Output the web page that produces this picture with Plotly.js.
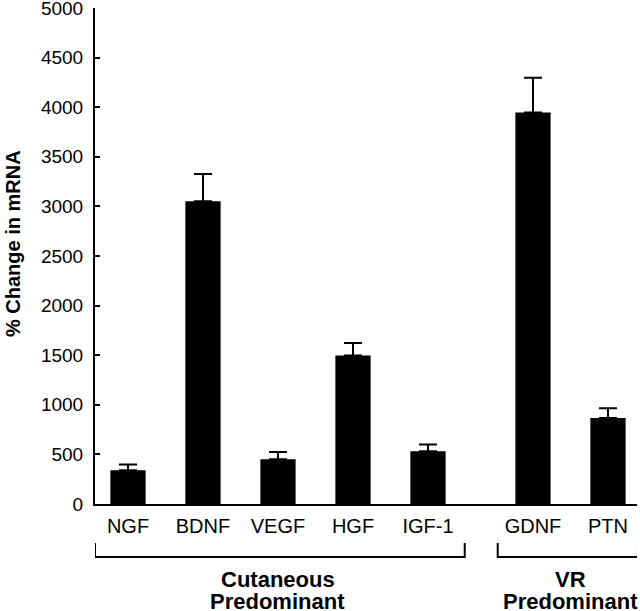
<!DOCTYPE html>
<html><head><meta charset="utf-8">
<script src="https://cdn.plot.ly/plotly-3.0.1.min.js"></script>
<style>html,body{margin:0;padding:0;background:#fff}#chart{width:640px;height:611px}</style>
</head><body><div id="chart"></div>
<script>
// Data
const categories = ["NGF", "BDNF", "VEGF", "HGF", "IGF-1", "GDNF", "PTN"];
const meanChange = [341, 3052, 452, 1496, 532, 3946, 867];
const semChange = [57, 274, 73, 127, 67, 351, 97];
const groupLine1 = ["Cutaneous", "VR"];
const groupLine2 = ["Predominant", "Predominant"];
const groupSizes = [5, 2];
const yTicks = [0, 500, 1000, 1500, 2000, 2500, 3000, 3500, 4000, 4500, 5000];

// layout helpers: positions derived from group membership
const GAP = 0.4;
const xPos = [];
const groupRanges = [];
let cursor = 0;
groupSizes.forEach((n) => {
  const start = cursor;
  for (let i = 0; i < n; i++) { xPos.push(cursor); cursor += 1; }
  groupRanges.push([start, cursor - 1]);
  cursor += GAP;
});

const FONT = "Liberation Sans, Arial, Helvetica, sans-serif";
const trace = {
  type: "bar",
  x: xPos,
  y: meanChange,
  width: 0.47,
  marker: {color: "#000", line: {width: 0}},
  error_y: {type: "data", array: semChange, arrayminus: semChange.map(() => 0), symmetric: false,
            color: "#000", thickness: 2, width: 9},
  hoverinfo: "skip"
};

const PH = 496; // plot height in px (for paper-fraction conversion)
const shapes = [];
const annotations = [];
const pad = [[0.44, 0.49], [0.47, 0.40]];
const yTop = -39 / PH, yBot = -53 / PH;
groupRanges.forEach((r, g) => {
  const x0 = r[0] - pad[g][0], x1 = r[1] + pad[g][1];
  shapes.push({type: "path", xref: "x", yref: "paper",
    path: `M ${x0} ${yTop} L ${x0} ${yBot} L ${x1} ${yBot} L ${x1} ${yTop}`,
    line: {color: "#000", width: 2}});
  const cx = (r[0] + r[1]) / 2 + (g === 1 ? 0.0 : 0);
  annotations.push({xref: "x", yref: "paper", x: cx, y: -75 / PH,
    yanchor: "middle", xanchor: "center", showarrow: false, text: "<b>" + groupLine1[g] + "</b>",
    font: {family: FONT, size: 22, color: "#000"}});
  annotations.push({xref: "x", yref: "paper", x: cx, y: -97 / PH,
    yanchor: "middle", xanchor: "center", showarrow: false, text: "<b>" + groupLine2[g] + "</b>",
    font: {family: FONT, size: 22, color: "#000"}});
});
annotations.push({xref: "paper", yref: "paper", x: 0, xshift: -82, y: 0.524, xanchor: "center", yanchor: "middle",
  textangle: -90, showarrow: false, text: "<b>% Change in mRNA</b>", font: {family: FONT, size: 20, color: "#000"}});

const layout = {
  width: 640, height: 611,
  margin: {l: 95, r: 3, t: 8, b: 107},
  paper_bgcolor: "#fff", plot_bgcolor: "#fff",
  showlegend: false,
  font: {family: FONT, color: "#000"},
  xaxis: {range: [-0.44, 6.787], tickvals: xPos, ticktext: categories, ticks: "",
          showline: true, linecolor: "#000", linewidth: 2, showgrid: false, zeroline: false,
          tickfont: {family: FONT, size: 20, color: "#000"}, ticklabelstandoff: 3, fixedrange: true},
  yaxis: {range: [0, 5000], tickvals: yTicks, ticks: "inside", ticklen: 5, tickwidth: 2, tickcolor: "#000",
          showline: true, linecolor: "#000", linewidth: 2, showgrid: false, zeroline: false,
          ticklabeloverflow: "allow",
          tickfont: {family: FONT, size: 19, color: "#000"}, ticklabelstandoff: 6, fixedrange: true},
  shapes: shapes,
  annotations: annotations
};
Plotly.newPlot("chart", [trace], layout, {displayModeBar: false, staticPlot: true});
</script></body></html>
